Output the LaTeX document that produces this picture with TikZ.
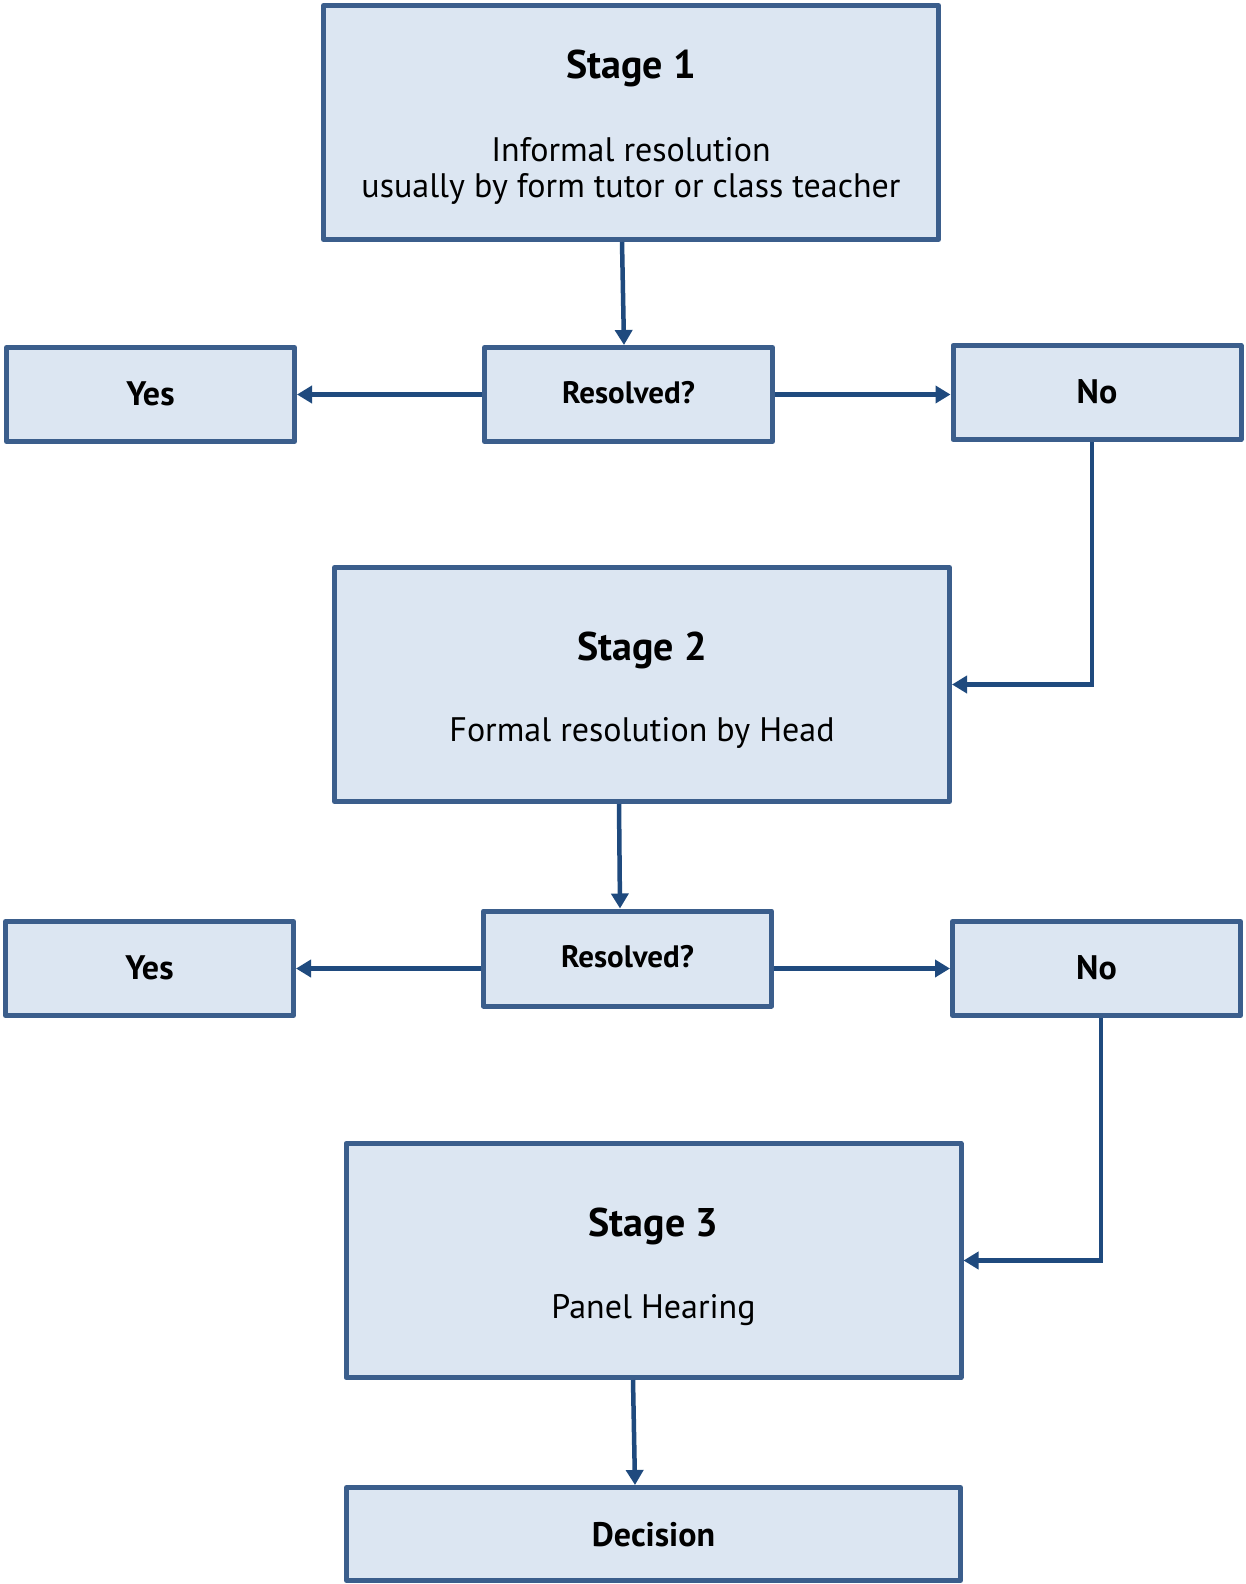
\documentclass[tikz,border=0pt]{standalone}
\usepackage{fontspec}
\setmainfont{PT Sans}
\usetikzlibrary{arrows.meta}
\definecolor{boxfill}{HTML}{DCE6F2}
\definecolor{boxline}{HTML}{3B5E8C}
\definecolor{arrowc}{HTML}{1F4A7E}
\tikzset{
  box/.style={draw=boxline, fill=boxfill, line width=5pt, inner sep=0pt, line join=round},
  stagebox/.style={box, minimum width=615pt, minimum height=234pt},
  smallbox/.style={box, minimum width=288pt, minimum height=94pt},
  titletext/.style={anchor=base, inner sep=0pt, font=\bfseries\fontsize{40}{44}\selectfont},
  bodytext/.style={anchor=base, inner sep=0pt, font=\fontsize{34}{36}\selectfont},
  smalltext/.style={anchor=base, inner sep=0pt, font=\bfseries\fontsize{34}{36}\selectfont},
  qtext/.style={smalltext, font=\bfseries\fontsize{31}{34}\selectfont},
  arr/.style={draw=arrowc, line width=4.5pt, -{Triangle[length=15pt,width=17pt]}}
}
\begin{document}
\begin{tikzpicture}[x=1pt,y=-1pt]
\useasboundingbox (0,0) rectangle (1245,1584);
\fill[white] (0,0) rectangle (1245,1584);
% boxes
\node[stagebox] (s1) at (631,122.5) {};
\node[smallbox] (r1) at (628.5,394.5) {};
\node[smallbox] (y1) at (150.5,394.5) {};
\node[smallbox] (n1) at (1097,392.5) {};
\node[stagebox] (s2) at (642,684.5) {};
\node[smallbox, minimum height=95pt] (r2) at (627.5,958.5) {};
\node[smallbox] (y2) at (149.5,968.5) {};
\node[smallbox] (n2) at (1096.5,968.5) {};
\node[stagebox] (s3) at (653.5,1260.5) {};
\node[smallbox, minimum width=614pt, minimum height=93pt] (dec) at (653.5,1534) {};
% texts
\node[titletext] (t1) at (631,79) {Stage 1};
\node[bodytext] (b1a) at (631,161) {Informal resolution};
\node[bodytext] (b1b) at (631,197) {usually by form tutor or class teacher};
\node[smalltext] (ty1) at (y1.center |- 0,405) {Yes};
\node[qtext] (tr1) at (r1.center |- 0,403) {Resolved?};
\node[smalltext] (tn1) at (n1.center |- 0,403) {No};
\node[titletext] (t2) at (642,660) {Stage 2};
\node[bodytext] (b2) at (642,741) {Formal resolution by Head};
\node[smalltext] (ty2) at (y2.center |- 0,979) {Yes};
\node[qtext] (tr2) at (r2.center |- 0,967) {Resolved?};
\node[smalltext] (tn2) at (n2.center |- 0,979) {No};
\node[titletext] (t3) at (653.5,1236) {Stage 3};
\node[bodytext] (b3) at (653.5,1318) {Panel Hearing};
\node[smalltext] (td) at (653.5,1546) {Decision};
% connectors
\draw[arr] ([xshift=-9pt]s1.south) -- ([xshift=-4.5pt]r1.north);
\draw[arr] (r1.west) -- (y1.east);
\draw[arr] (r1.east) -- (r1.east -| n1.west);
\draw[arr] ([xshift=-5pt]n1.south) |- (s2.east);
\draw[arr] ([xshift=-23pt]s2.south) -- ([xshift=-7.5pt]r2.north);
\draw[arr] (y2.east -| r2.west) -- (y2.east);
\draw[arr] (n2.west -| r2.east) -- (n2.west);
\draw[arr] ([xshift=4.5pt]n2.south) |- (s3.east);
\draw[arr] ([xshift=-20.5pt]s3.south) -- ([xshift=-18.5pt]dec.north);
\end{tikzpicture}
\end{document}
